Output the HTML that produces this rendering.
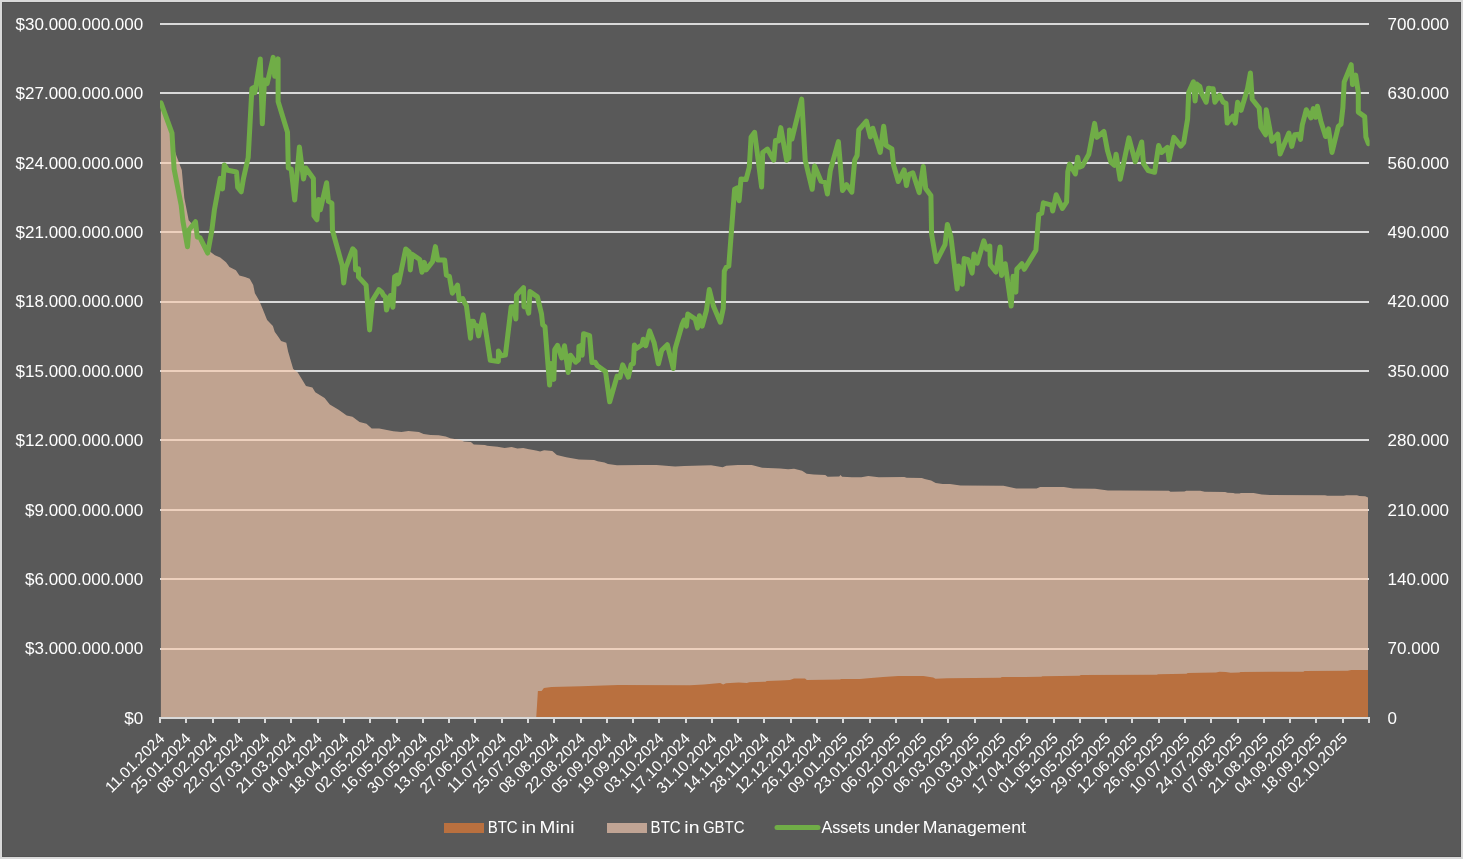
<!DOCTYPE html><html><head><meta charset="utf-8"><style>
html,body{margin:0;padding:0;background:#d9d9d9;}
body{width:1463px;height:859px;overflow:hidden;position:relative;font-family:"Liberation Sans",sans-serif;}
svg{position:absolute;left:0;top:0;}
text{font-family:"Liberation Sans",sans-serif;fill:#ffffff;}svg{will-change:transform;}
</style></head><body>
<svg width="1463" height="859" viewBox="0 0 1463 859">
<rect x="2" y="2" width="1459" height="855" fill="#525252"/>
<rect x="3" y="3" width="1457" height="853" fill="#595959"/>
<g fill="#d9d9d9" shape-rendering="crispEdges"><rect x="160" y="648" width="1209" height="2"/><rect x="160" y="578" width="1209" height="2"/><rect x="160" y="509" width="1209" height="2"/><rect x="160" y="439" width="1209" height="2"/><rect x="160" y="370" width="1209" height="2"/><rect x="160" y="301" width="1209" height="2"/><rect x="160" y="231" width="1209" height="2"/><rect x="160" y="162" width="1209" height="2"/><rect x="160" y="92" width="1209" height="2"/><rect x="160" y="23" width="1209" height="2"/></g>
<path d="M160.9 717 L160.9 106 L172 136 L174.5 150 L176.5 156 L181.8 170 L184.3 198 L188.7 220.3 L191.6 223.5 L200 236 L205 245 L210.3 251.7 L214.9 255.2 L220.2 257.5 L226 262.2 L229.5 266.9 L235.9 270.3 L239.4 275.6 L245 277 L249.7 278.7 L253.2 285.1 L254.9 293.3 L259 300.3 L262.5 308.4 L267.1 320.1 L272.9 325.9 L274.7 331.7 L278.8 337.5 L281.1 341 L286.3 342.8 L288.1 351.5 L293.2 369 L297.8 372.5 L306 385.9 L312.4 387.6 L315.3 392.3 L324.6 398.1 L329.8 404.5 L338.6 409.7 L346.7 415.5 L352.5 416.7 L359.5 422 L366.5 423.7 L371.7 428.4 L379.3 428.4 L393.3 431.3 L401.4 431.9 L408.4 430.9 L418.9 431.9 L423.6 434 L430.6 435.1 L438.7 435.3 L445.7 436.5 L450.3 438.3 L461.6 440.3 L463.9 441.5 L470.9 442.1 L473.8 444.6 L484.9 445 L487.2 445.8 L497.6 446.7 L504.6 447.9 L511.6 447 L517.4 448.5 L523.2 447.9 L529 449.3 L536 450.4 L540.1 451.6 L544.1 450.2 L552.3 451.1 L556.9 454.9 L566.2 457.2 L579 459.5 L594.1 460.1 L597.6 461.3 L604.5 462.4 L608 463.9 L617 465.3 L642.5 465 L656.5 465 L675.1 466.5 L684.4 466.1 L711.1 465.3 L722.7 467.3 L726.2 465.8 L737.8 465 L751.8 465 L762.2 467.7 L780 468.4 L788.1 469.2 L794 468.8 L802.1 470.7 L806.7 473.8 L813.7 474.6 L825.3 475 L827.6 476.7 L839.3 476.5 L840.4 475 L842.2 476.7 L852 477.3 L861.3 477.3 L868.3 476.1 L878.8 477.3 L904.3 477 L906.7 477.7 L921.8 477.9 L924.7 479.1 L931.1 480.4 L935.7 483.1 L942.7 483.9 L950 483.9 L960.5 485.6 L1003.5 485.8 L1016.2 488.5 L1036.6 488.5 L1040.1 487 L1063.9 487 L1073.2 488.5 L1095.2 488.8 L1108 490.4 L1120 490.6 L1168.8 490.8 L1170.5 491.7 L1184.5 491.5 L1186.2 490.8 L1200.2 490.8 L1204.8 491.7 L1225.2 492 L1227.5 492.7 L1233.3 492.9 L1235 493.5 L1239.7 493.5 L1240.8 492.9 L1253.6 492.9 L1261.8 494.6 L1270 495 L1325 495.2 L1327.4 495.8 L1343.8 495.8 L1346.3 495.2 L1357 495.2 L1359.4 496 L1365.2 496.2 L1366.8 497 L1368 497.4 L1368 717 Z" fill="#f8cbad" fill-opacity="0.65"/>
<path d="M536.2 718 L537.9 690.9 L541.6 690.9 L543.9 688 L551.5 687.1 L581.1 686.3 L618.3 685.1 L690 685.2 L703.9 684.5 L720.2 683.1 L723.1 684.6 L726 683.3 L738.8 682.5 L746.9 682.9 L749.3 682.2 L765.5 681.7 L766.7 681.1 L780.6 680.5 L789.9 679.9 L794 678.5 L805 678.5 L806.8 679.9 L839.9 679.6 L841.1 679 L860 678.9 L868.1 678.2 L883.2 677.1 L898.3 676.1 L923.3 676.1 L933.2 677.4 L935.5 678.8 L947.1 678.3 L1000.6 677.7 L1001.8 677.1 L1025 677.1 L1041.3 676.8 L1042.4 676.3 L1079.6 675.7 L1080.8 675.1 L1156.9 674.8 L1158 674.2 L1186.5 673.7 L1187.7 673 L1215.9 672.6 L1219.6 671.7 L1225.8 672 L1230.7 672.7 L1239.3 672.6 L1240.5 672 L1303.3 671.7 L1304.5 671 L1347.6 670.8 L1351.3 670 L1368 670 L1368 717 Z" fill="#b9703f"/>
<g fill="#d9d9d9" shape-rendering="crispEdges"><rect x="160" y="717" width="1209" height="2"/><rect x="159" y="717" width="2" height="6"/><rect x="185" y="717" width="2" height="6"/><rect x="212" y="717" width="2" height="6"/><rect x="238" y="717" width="2" height="6"/><rect x="264" y="717" width="2" height="6"/><rect x="290" y="717" width="2" height="6"/><rect x="317" y="717" width="2" height="6"/><rect x="343" y="717" width="2" height="6"/><rect x="369" y="717" width="2" height="6"/><rect x="396" y="717" width="2" height="6"/><rect x="422" y="717" width="2" height="6"/><rect x="448" y="717" width="2" height="6"/><rect x="474" y="717" width="2" height="6"/><rect x="501" y="717" width="2" height="6"/><rect x="527" y="717" width="2" height="6"/><rect x="553" y="717" width="2" height="6"/><rect x="580" y="717" width="2" height="6"/><rect x="606" y="717" width="2" height="6"/><rect x="632" y="717" width="2" height="6"/><rect x="658" y="717" width="2" height="6"/><rect x="685" y="717" width="2" height="6"/><rect x="711" y="717" width="2" height="6"/><rect x="737" y="717" width="2" height="6"/><rect x="763" y="717" width="2" height="6"/><rect x="790" y="717" width="2" height="6"/><rect x="816" y="717" width="2" height="6"/><rect x="842" y="717" width="2" height="6"/><rect x="869" y="717" width="2" height="6"/><rect x="895" y="717" width="2" height="6"/><rect x="921" y="717" width="2" height="6"/><rect x="947" y="717" width="2" height="6"/><rect x="974" y="717" width="2" height="6"/><rect x="1000" y="717" width="2" height="6"/><rect x="1026" y="717" width="2" height="6"/><rect x="1053" y="717" width="2" height="6"/><rect x="1079" y="717" width="2" height="6"/><rect x="1105" y="717" width="2" height="6"/><rect x="1131" y="717" width="2" height="6"/><rect x="1158" y="717" width="2" height="6"/><rect x="1184" y="717" width="2" height="6"/><rect x="1210" y="717" width="2" height="6"/><rect x="1237" y="717" width="2" height="6"/><rect x="1263" y="717" width="2" height="6"/><rect x="1289" y="717" width="2" height="6"/><rect x="1315" y="717" width="2" height="6"/><rect x="1342" y="717" width="2" height="6"/><rect x="1368" y="717" width="2" height="6"/></g>
<clipPath id="pc"><rect x="160" y="0" width="1209.6" height="717"/></clipPath>
<path clip-path="url(#pc)" d="M161 102.8 L172 133.2 L174.1 169 L181.2 205.2 L182.9 221 L187.5 246.8 L188.9 230 L195.5 221.7 L197.3 237 L200 237.7 L207.7 253.1 L211.9 230 L214.4 209.9 L220.2 178.4 L222.5 188.9 L224.3 165 L227.8 170.3 L236.5 172 L237.7 187.2 L241.2 191.8 L243.5 178.4 L248.2 157.5 L251.9 88.6 L253.4 87.6 L254.9 92.6 L260.3 58.9 L262.3 123.8 L264.5 80 L267.2 83.5 L273.2 57.4 L274.7 76.2 L278.1 58.9 L278.1 101.5 L287.5 132.2 L288.3 168 L291.2 169.1 L294.7 200 L299.4 147 L303.5 179 L305.8 168 L313.4 178.4 L313.9 215.7 L316.9 219.8 L318.6 199.4 L320.3 209.9 L326.6 182.8 L328.4 201.4 L331.9 203.2 L332.5 230.5 L342.2 265.3 L343.7 283 L345.7 268 L352.7 248.8 L355 251.3 L355.6 269.9 L358.5 268.8 L358.5 276.9 L366.1 285.1 L367.3 300.2 L369.6 329.9 L372.5 300.2 L378.9 289.7 L381.8 292.1 L383.6 295.5 L385.3 296.7 L386.5 310.1 L390.5 295.5 L392.9 307.2 L394.6 276.9 L397 275.2 L397.5 283.9 L398.7 282.7 L405.7 249 L409.2 251.9 L410.3 269.9 L412.1 254.2 L419.7 259.5 L422 272.3 L424.3 262.4 L426.1 269.9 L432.5 261.8 L435.4 246.6 L437.7 260 L444.7 260 L446.4 275.2 L449.4 276.3 L452.3 293.2 L457.5 285.1 L459.3 300.2 L462.7 298.5 L465.1 303.7 L466.4 305.6 L470.5 338.2 L471.6 321.3 L473.4 321.3 L474.6 325.4 L476.5 325.5 L478.6 335.9 L483.3 314.9 L490.3 360.3 L498.4 361.5 L498.4 351 L501.3 355.7 L505.4 355.1 L511.2 306.8 L513.6 306.8 L515.9 319 L516.5 295.1 L523.5 287.6 L524 306.8 L527 307.4 L528.7 313.2 L529.9 291.6 L537.4 296.9 L541.5 313.8 L542.7 324.8 L545 326.6 L549.6 385 L551 363.5 L553.8 379.4 L554.7 349.6 L557.5 345.4 L561.7 358 L564.5 345.8 L568.2 372.4 L570.5 355.2 L575.7 362.2 L578.5 359.8 L578.9 346.3 L581.3 345.4 L582.2 355.2 L583.6 333.7 L589.6 335.6 L592 362.6 L595.2 362.2 L597.1 365.4 L605.5 371.5 L609.7 401.8 L617.1 376.1 L619.9 377.5 L622.7 364.9 L628.3 377.1 L631.1 364.5 L633.4 363.6 L634.4 344.9 L636.5 348.5 L642.1 344.7 L643.2 339.3 L645.8 345.7 L649.6 330.8 L654.2 342.9 L658.4 363.8 L661.7 350.3 L667.3 344.7 L673.3 368.5 L675.2 348.5 L682.2 324.2 L684.1 320 L686.4 326.1 L687.8 314 L695.2 319.1 L697.6 328 L699.4 315.8 L702.2 326.1 L706.4 310.5 L709.3 289.6 L713.4 306 L720.3 322.2 L723.3 308.2 L724.3 271.2 L726.2 267.3 L728.8 266 L734.6 189.2 L737.1 187.9 L739.1 200.7 L741 179 L746.1 179.6 L749.3 167.2 L751.1 136.9 L754.6 132.3 L761.6 187 L762.7 152.6 L767.4 149.1 L773.8 160.2 L775.5 140.4 L778.5 141 L780.8 127.6 L786.6 160.2 L788.9 157.9 L789.5 129.9 L791.9 139.2 L801.7 99.1 L805.2 160.2 L812.2 189.3 L814.6 166 L821 181.2 L825 182.3 L827.4 194 L830.3 170.7 L838.4 141.6 L842.5 190.5 L846.6 184.7 L851.8 192.2 L854.7 160.2 L857.1 155.5 L858.8 130 L866.4 121.2 L870.4 136.9 L872.8 128.2 L880.2 152.4 L883.7 126.2 L886.1 145.4 L891.9 148.9 L893.6 165.2 L898.3 181.5 L904.1 169.9 L906.4 185.6 L908.8 174.5 L912.8 172.8 L919.2 192.6 L923.3 166.4 L925.7 188.5 L930.9 195.5 L931.6 234.2 L936.3 261.6 L945 244.7 L947.4 224.4 L950.9 236.6 L957.2 288.9 L958.6 266.1 L962.3 284.2 L964.2 258.6 L967.9 259.6 L972.1 273.1 L974 254 L977.2 263.3 L983.8 240.9 L986.6 249.3 L989.8 246.1 L990.3 264.7 L995.9 272.1 L1000.1 247 L1001.5 275.4 L1005.2 263.7 L1011.2 306.1 L1013.1 276.3 L1015.9 292.1 L1016.8 269.3 L1021.9 263.7 L1024.3 269.3 L1035.9 250.2 L1038.8 214.5 L1041.7 213.3 L1043.4 202.8 L1051.6 205.1 L1052.7 211 L1056.2 194.7 L1062.4 208.5 L1066.6 202 L1067.8 171.7 L1069.6 164.1 L1075.4 174 L1077.7 157.2 L1079.5 167.1 L1082.4 165.9 L1088.8 154.2 L1094.6 123.4 L1096.9 137.4 L1103.9 131.5 L1107.4 150.2 L1110.9 162.4 L1114.4 165.3 L1116.1 154.2 L1120.2 179.3 L1128.9 137.9 L1135.3 161.8 L1141.7 142 L1143.5 163.6 L1148.2 170.5 L1154.6 172.3 L1158.6 145.5 L1161.5 152.5 L1167.4 147.3 L1169.1 160.1 L1173.8 137.4 L1180.8 146.1 L1183.7 142.6 L1187.6 119 L1188.7 92.3 L1193.4 81.8 L1195.1 101 L1196.9 84.1 L1199.8 86.4 L1201.5 93.4 L1206.2 102.2 L1208.5 88.2 L1210.9 88.8 L1213.2 88.8 L1214.9 102.2 L1219.6 95.2 L1223.1 102.2 L1226 103.3 L1227.2 123.1 L1233 116.1 L1235.3 123.1 L1237.6 102.2 L1241.1 110.3 L1247.5 88.8 L1250.4 73 L1252.2 99.2 L1259.2 108 L1260.9 127.2 L1265.6 134.8 L1266.2 109.7 L1272 141.2 L1277.8 134.2 L1280.1 154 L1288.9 133 L1291.8 146.4 L1294.7 134.8 L1298.8 134.2 L1300.5 139.4 L1302.3 124.9 L1306.3 109.7 L1311 117.9 L1313.3 108.6 L1315.7 117.3 L1317.4 106.2 L1320.9 121.4 L1325.6 136.5 L1328.5 128.9 L1332 152.5 L1338.4 126.2 L1341 124.3 L1342.9 107.6 L1344.2 82 L1351.2 64.7 L1352.5 84.6 L1355.7 75 L1358.3 92.3 L1358.3 112.1 L1364.7 116.6 L1365.9 137.1 L1368.4 143.6" fill="none" stroke="#70ad47" stroke-width="5" stroke-linejoin="round" stroke-linecap="round"/>
<g font-size="17.0"><text x="143.2" y="723.7" text-anchor="end">$0</text><text x="1387.6" y="723.7">0</text><text x="143.2" y="654.3" text-anchor="end">$3.000.000.000</text><text x="1387.6" y="654.3">70.000</text><text x="143.2" y="584.9" text-anchor="end">$6.000.000.000</text><text x="1387.6" y="584.9">140.000</text><text x="143.2" y="515.5" text-anchor="end">$9.000.000.000</text><text x="1387.6" y="515.5">210.000</text><text x="143.2" y="446.1" text-anchor="end">$12.000.000.000</text><text x="1387.6" y="446.1">280.000</text><text x="143.2" y="376.7" text-anchor="end">$15.000.000.000</text><text x="1387.6" y="376.7">350.000</text><text x="143.2" y="307.3" text-anchor="end">$18.000.000.000</text><text x="1387.6" y="307.3">420.000</text><text x="143.2" y="237.9" text-anchor="end">$21.000.000.000</text><text x="1387.6" y="237.9">490.000</text><text x="143.2" y="168.5" text-anchor="end">$24.000.000.000</text><text x="1387.6" y="168.5">560.000</text><text x="143.2" y="99.1" text-anchor="end">$27.000.000.000</text><text x="1387.6" y="99.1">630.000</text><text x="143.2" y="29.7" text-anchor="end">$30.000.000.000</text><text x="1387.6" y="29.7">700.000</text></g>
<g font-size="15.5"><text transform="translate(165.5 739.5) rotate(-45)" text-anchor="end">11.01.2024</text><text transform="translate(191.8 739.5) rotate(-45)" text-anchor="end">25.01.2024</text><text transform="translate(218.1 739.5) rotate(-45)" text-anchor="end">08.02.2024</text><text transform="translate(244.4 739.5) rotate(-45)" text-anchor="end">22.02.2024</text><text transform="translate(270.7 739.5) rotate(-45)" text-anchor="end">07.03.2024</text><text transform="translate(297 739.5) rotate(-45)" text-anchor="end">21.03.2024</text><text transform="translate(323.2 739.5) rotate(-45)" text-anchor="end">04.04.2024</text><text transform="translate(349.5 739.5) rotate(-45)" text-anchor="end">18.04.2024</text><text transform="translate(375.8 739.5) rotate(-45)" text-anchor="end">02.05.2024</text><text transform="translate(402.1 739.5) rotate(-45)" text-anchor="end">16.05.2024</text><text transform="translate(428.4 739.5) rotate(-45)" text-anchor="end">30.05.2024</text><text transform="translate(454.6 739.5) rotate(-45)" text-anchor="end">13.06.2024</text><text transform="translate(480.9 739.5) rotate(-45)" text-anchor="end">27.06.2024</text><text transform="translate(507.2 739.5) rotate(-45)" text-anchor="end">11.07.2024</text><text transform="translate(533.5 739.5) rotate(-45)" text-anchor="end">25.07.2024</text><text transform="translate(559.8 739.5) rotate(-45)" text-anchor="end">08.08.2024</text><text transform="translate(586.1 739.5) rotate(-45)" text-anchor="end">22.08.2024</text><text transform="translate(612.3 739.5) rotate(-45)" text-anchor="end">05.09.2024</text><text transform="translate(638.6 739.5) rotate(-45)" text-anchor="end">19.09.2024</text><text transform="translate(664.9 739.5) rotate(-45)" text-anchor="end">03.10.2024</text><text transform="translate(691.2 739.5) rotate(-45)" text-anchor="end">17.10.2024</text><text transform="translate(717.5 739.5) rotate(-45)" text-anchor="end">31.10.2024</text><text transform="translate(743.8 739.5) rotate(-45)" text-anchor="end">14.11.2024</text><text transform="translate(770 739.5) rotate(-45)" text-anchor="end">28.11.2024</text><text transform="translate(796.3 739.5) rotate(-45)" text-anchor="end">12.12.2024</text><text transform="translate(822.6 739.5) rotate(-45)" text-anchor="end">26.12.2024</text><text transform="translate(848.9 739.5) rotate(-45)" text-anchor="end">09.01.2025</text><text transform="translate(875.2 739.5) rotate(-45)" text-anchor="end">23.01.2025</text><text transform="translate(901.5 739.5) rotate(-45)" text-anchor="end">06.02.2025</text><text transform="translate(927.7 739.5) rotate(-45)" text-anchor="end">20.02.2025</text><text transform="translate(954 739.5) rotate(-45)" text-anchor="end">06.03.2025</text><text transform="translate(980.3 739.5) rotate(-45)" text-anchor="end">20.03.2025</text><text transform="translate(1006.6 739.5) rotate(-45)" text-anchor="end">03.04.2025</text><text transform="translate(1032.9 739.5) rotate(-45)" text-anchor="end">17.04.2025</text><text transform="translate(1059.1 739.5) rotate(-45)" text-anchor="end">01.05.2025</text><text transform="translate(1085.4 739.5) rotate(-45)" text-anchor="end">15.05.2025</text><text transform="translate(1111.7 739.5) rotate(-45)" text-anchor="end">29.05.2025</text><text transform="translate(1138 739.5) rotate(-45)" text-anchor="end">12.06.2025</text><text transform="translate(1164.3 739.5) rotate(-45)" text-anchor="end">26.06.2025</text><text transform="translate(1190.6 739.5) rotate(-45)" text-anchor="end">10.07.2025</text><text transform="translate(1216.8 739.5) rotate(-45)" text-anchor="end">24.07.2025</text><text transform="translate(1243.1 739.5) rotate(-45)" text-anchor="end">07.08.2025</text><text transform="translate(1269.4 739.5) rotate(-45)" text-anchor="end">21.08.2025</text><text transform="translate(1295.7 739.5) rotate(-45)" text-anchor="end">04.09.2025</text><text transform="translate(1322 739.5) rotate(-45)" text-anchor="end">18.09.2025</text><text transform="translate(1348.3 739.5) rotate(-45)" text-anchor="end">02.10.2025</text></g>
<rect x="444" y="823" width="40" height="10" fill="#b9703f"/>
<rect x="607" y="823" width="40" height="10" fill="#c0a494"/>
<line x1="777" y1="827.6" x2="818" y2="827.6" stroke="#70ad47" stroke-width="5" stroke-linecap="round"/>
<g font-size="17.0">
<text x="487.7" y="832.6" textLength="30.00" lengthAdjust="spacingAndGlyphs">BTC</text>
<text x="521.4" y="832.6" textLength="14.81" lengthAdjust="spacingAndGlyphs">in</text>
<text x="539.6" y="832.6" textLength="34.95" lengthAdjust="spacingAndGlyphs">Mini</text>
<text x="650.6" y="832.6" textLength="30.11" lengthAdjust="spacingAndGlyphs">BTC</text>
<text x="684.3" y="832.6" textLength="15.17" lengthAdjust="spacingAndGlyphs">in</text>
<text x="702.9" y="832.6" textLength="41.62" lengthAdjust="spacingAndGlyphs">GBTC</text>
<text x="821.4" y="832.6" textLength="48.72" lengthAdjust="spacingAndGlyphs">Assets</text>
<text x="873.9" y="832.6" textLength="45.86" lengthAdjust="spacingAndGlyphs">under</text>
<text x="922.7" y="832.6" textLength="103.28" lengthAdjust="spacingAndGlyphs">Management</text>
</g>
</svg></body></html>
